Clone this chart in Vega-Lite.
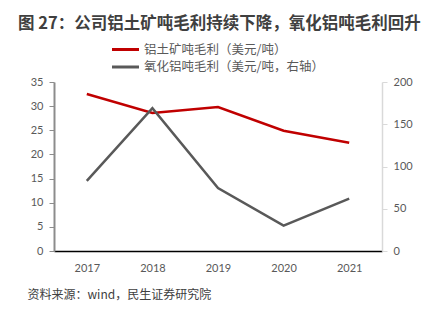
{
  "$schema": "https://vega.github.io/schema/vega-lite/v6.json",
  "width": 328,
  "height": 169,
  "autosize": {"type": "none"},
  "padding": {"left": 54, "top": 82, "right": 53, "bottom": 70},
  "background": "white",
  "config": {
    "view": {"stroke": null},
    "font": "Noto Sans CJK SC",
    "axis": {"grid": false, "labelColor": "#595959", "labelFontSize": 11, "labelFont": "Lato", "titleColor": "#595959"}
  },
  "title": {
    "text": "图 27：公司铝土矿吨毛利持续下降，氧化铝吨毛利回升",
    "anchor": "start",
    "frame": "group",
    "dx": -36,
    "offset": 9,
    "fontSize": 16.5,
    "fontWeight": "bold",
    "color": "#3f3f3f",
    "font": "Noto Sans CJK SC"
  },
  "data": {
    "values": [
      {"year": "2017", "bauxite": 32.5, "alumina": 83},
      {"year": "2018", "bauxite": 28.6, "alumina": 169},
      {"year": "2019", "bauxite": 29.8, "alumina": 74.5},
      {"year": "2020", "bauxite": 24.9, "alumina": 30},
      {"year": "2021", "bauxite": 22.4, "alumina": 62}
    ]
  },
  "encoding": {
    "x": {
      "field": "year",
      "type": "ordinal",
      "scale": {"type": "point", "padding": 0.5},
      "axis": {
        "labelAngle": 0,
        "ticks": false,
        "labelPadding": 11,
        "domainColor": "#000000",
        "domainWidth": 1.5,
        "title": "资料来源：wind，民生证券研究院",
        "titleAnchor": "start",
        "titleX": -27,
        "titleY": 38,
        "titleFontSize": 12,
        "titleFontWeight": "normal",
        "titleColor": "#404040",
        "titleFont": "Noto Sans CJK SC"
      }
    }
  },
  "layer": [
    {
      "mark": {"type": "line", "strokeWidth": 2.5},
      "encoding": {
        "y": {
          "field": "bauxite",
          "type": "quantitative",
          "scale": {"domain": [0, 35]},
          "axis": {
            "title": null,
            "values": [0, 5, 10, 15, 20, 25, 30, 35],
            "domainColor": "#8c8c8c",
            "domainWidth": 2,
            "tickColor": "#8c8c8c",
            "tickSize": 5,
            "labelPadding": 6
          }
        },
        "color": {
          "datum": "铝土矿吨毛利（美元/吨）",
          "type": "nominal",
          "scale": {
            "domain": ["铝土矿吨毛利（美元/吨）", "氧化铝吨毛利（美元/吨，右轴）"],
            "range": ["#c00000", "#595959"]
          },
          "legend": {
            "title": null,
            "orient": "none",
            "legendX": 63,
            "legendY": -41,
            "direction": "vertical",
            "symbolType": "M-2,0H2",
            "symbolSize": 182,
            "symbolStrokeWidth": 3,
            "labelFontSize": 12.5,
            "labelColor": "#595959",
            "labelFont": "Noto Sans CJK SC",
            "labelLimit": 300,
            "labelOffset": 10,
            "rowPadding": 2.5
          }
        }
      }
    },
    {
      "mark": {"type": "line", "strokeWidth": 2.5},
      "encoding": {
        "y": {
          "field": "alumina",
          "type": "quantitative",
          "scale": {"domain": [0, 200]},
          "axis": {
            "title": null,
            "orient": "right",
            "values": [0, 50, 100, 150, 200],
            "domainColor": "#d9d9d9",
            "domainWidth": 1.5,
            "tickColor": "#d9d9d9",
            "tickSize": 5,
            "labelPadding": 6
          }
        },
        "color": {"datum": "氧化铝吨毛利（美元/吨，右轴）", "type": "nominal"}
      }
    }
  ],
  "resolve": {"scale": {"y": "independent"}}
}
